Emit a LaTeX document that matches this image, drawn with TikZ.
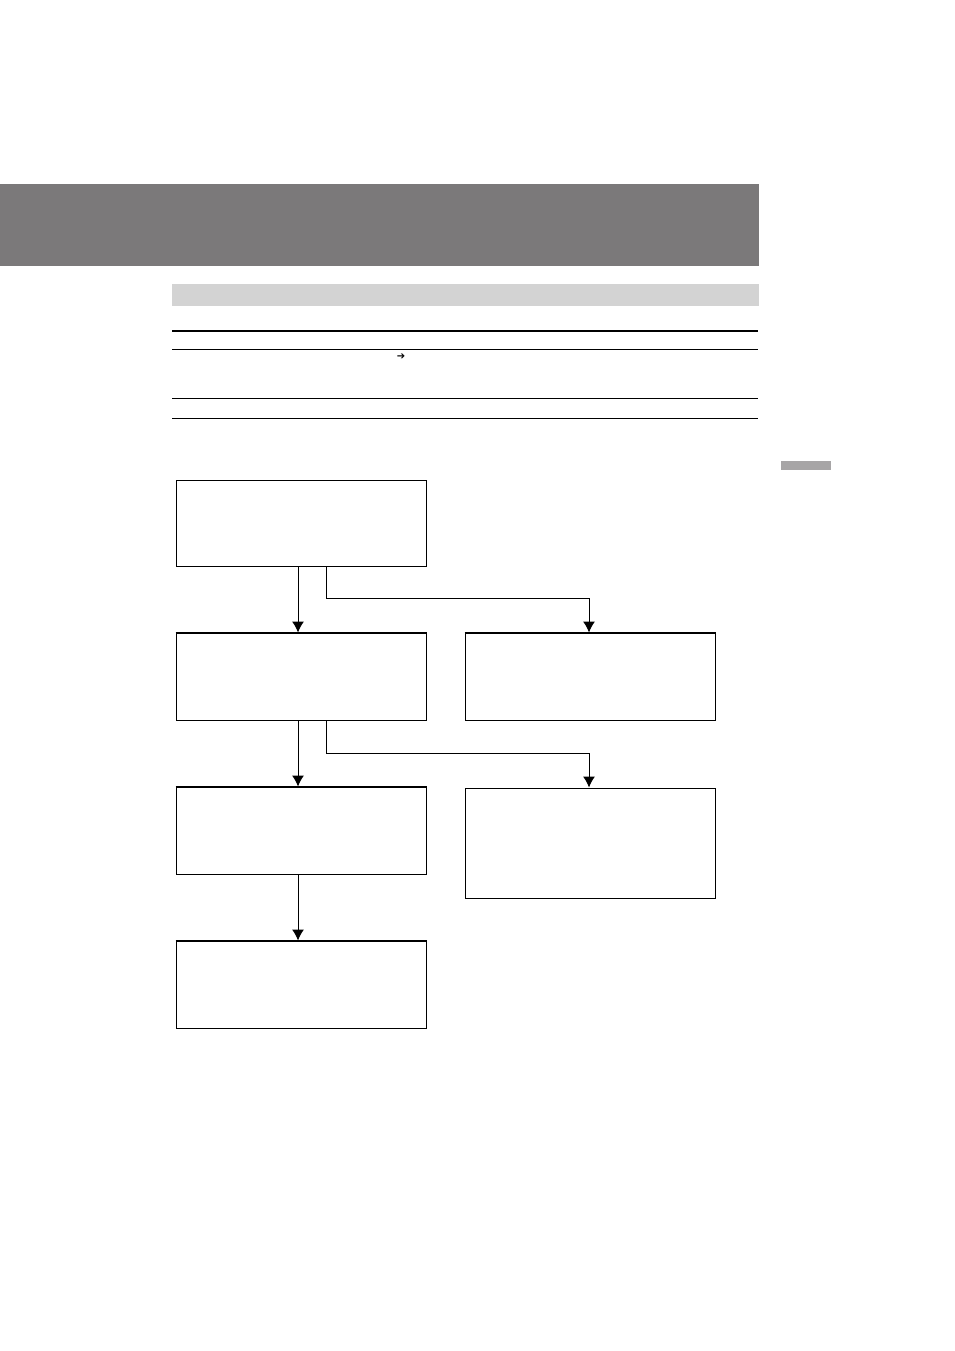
\documentclass[tikz,border=0pt]{standalone}
\usepackage{fontspec}
\newfontfamily\symbolfont{DejaVu Sans}
\usetikzlibrary{arrows.meta, positioning}
\usepackage{xcolor}
\definecolor{headgray}{HTML}{7B797A}
\definecolor{bargray}{HTML}{D3D3D3}
\definecolor{tabgray}{HTML}{A7A5A6}

\begin{document}
\begin{tikzpicture}[x=1pt,y=-1pt,
	flowbox/.style={draw,line width=1pt,minimum width=250pt,minimum height=86pt,inner sep=0pt},
	flowarrow/.style={-{Latex[length=11pt,width=12pt]},line width=1pt}]

	\useasboundingbox (0,0) rectangle (954,1351);

	% header bars
	\fill[headgray] (0,184) rectangle (759,266);
	\fill[bargray] (172,284) rectangle (759,306);
	\fill[tabgray] (781,461) rectangle (831,470);

	% table rules
	\draw[line width=2pt] (172,331) -- (758,331);
	\draw[line width=0.8pt] (172,349) -- (758,349);
	\draw[line width=0.8pt] (172,398) -- (758,398);
	\draw[line width=0.8pt] (172,418) -- (758,418);
	\node[inner sep=0pt] (tabarrow) at (401,357) {\symbolfont\fontsize{10}{10}\selectfont ➔};

	% boxes
	\node[flowbox] (boxA) at (301,523) {};
	\node[flowbox,minimum height=87pt] (boxB) at (301,676.5) {};
	\node[flowbox,minimum height=87pt] (boxC) at (590,676.5) {};
	\node[flowbox,minimum height=87pt] (boxD) at (301,830.5) {};
	\node[flowbox,minimum height=110pt] (boxE) at (590,843) {};
	\node[flowbox,minimum height=87pt] (boxF) at (301,984.5) {};

	% heavier top edges
	\draw[line width=2pt] (boxB.north west) -- (boxB.north east);
	\draw[line width=2pt] (boxC.north west) -- (boxC.north east);
	\draw[line width=2pt] (boxD.north west) -- (boxD.north east);
	\draw[line width=2pt] (boxF.north west) -- (boxF.north east);

	% main line
	\draw[flowarrow] ([xshift=-3pt]boxA.south) -- ([xshift=-3pt]boxB.north);
	\draw[flowarrow] ([xshift=-3pt]boxB.south) -- ([xshift=-3pt]boxD.north);
	\draw[flowarrow] ([xshift=-3pt]boxD.south) -- ([xshift=-3pt]boxF.north);

	% branches
	\draw[flowarrow] ([xshift=25pt]boxA.south) -- ++(0,32) -| ([xshift=-1pt]boxC.north);
	\draw[flowarrow] ([xshift=25pt]boxB.south) -- ++(0,33) -| ([xshift=-1pt]boxE.north);

\end{tikzpicture}
\end{document}
